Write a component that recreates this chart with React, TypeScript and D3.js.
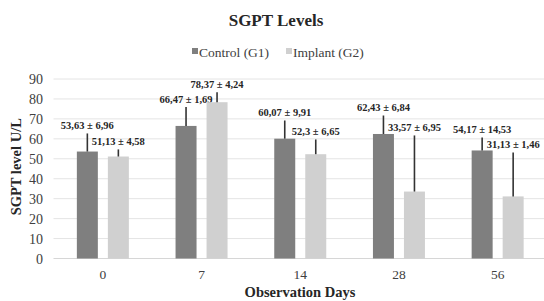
import React from "react";
import * as d3 from "d3";

const days = ["0", "7", "14", "28", "56"];
const groups = ["Control (G1)", "Implant (G2)"];
const controlMean = [53.63, 66.47, 60.07, 62.43, 54.17];
const implantMean = [51.13, 78.37, 52.3, 33.57, 31.13];
const controlSd = [6.96, 1.69, 9.91, 6.84, 14.53];
const implantSd = [4.58, 4.24, 6.65, 6.95, 1.46];
// upper end of the error whiskers as drawn in the figure
const controlErrTop = [62.7, 75.9, 69.2, 71.7, 60.7];
const implantErrTop = [54.7, 83.4, 59.7, 61.7, 53.2];
const yTicks = [0, 10, 20, 30, 40, 50, 60, 70, 80, 90];

const colors = ["#7f7f7f", "#d0d0d0"];
const serif = { fontFamily: '"Times New Roman", "Liberation Serif", serif' };

const W = 544;
const H = 301;
const left = 53.5;
const right = 547;
const top = 79;
const bottom = 258.5;

const fmt = (v: number) => String(v).replace(".", ",");

const App = () => {
  const x = d3.scaleBand<string>().domain(days).range([left, right]).padding(0);
  const inner = d3
    .scaleBand<string>()
    .domain(groups)
    .range([0, 52])
    .paddingInner(0.323)
    .paddingOuter(0);
  const y = d3.scaleLinear().domain([0, 90]).range([bottom, top]);

  const series = [
    { name: groups[0], mean: controlMean, sd: controlSd, err: controlErrTop, color: colors[0] },
    { name: groups[1], mean: implantMean, sd: implantSd, err: implantErrTop, color: colors[1] },
  ];

  const groupOffset = (x.bandwidth() - 52) / 2;

  return (
    <svg width={W} height={H} style={{ position: "absolute", left: 0, top: 0, background: "#fff" }}>
      <text x={276} y={26} textAnchor="middle" style={serif} fontWeight="bold" fontSize={17} fill="#262626">
        SGPT Levels
      </text>

      {/* legend */}
      {series.map((s, i) => {
        const lx = i === 0 ? 192 : 286;
        return (
          <g key={s.name}>
            <rect x={lx} y={48} width={6} height={6} fill={s.color} />
            <text x={lx + 7} y={57} style={serif} fontSize={13.5} fill="#404040">
              {s.name}
            </text>
          </g>
        );
      })}

      {/* grid */}
      {yTicks.map((t) => (
        <g key={t}>
          {t > 0 && <line x1={left} x2={W} y1={y(t)} y2={y(t)} stroke="#e4e4e4" strokeWidth={1} />}
          <text x={43} y={y(t) + 5} textAnchor="end" style={serif} fontSize={14} fill="#404040">
            {t}
          </text>
        </g>
      ))}
      <line x1={left} x2={W} y1={bottom} y2={bottom} stroke="#d6d6d6" strokeWidth={1.2} />

      {/* bars */}
      {series.map((s) =>
        days.map((d, i) => {
          const bx = (x(d) as number) + groupOffset + (inner(s.name) as number);
          const cx = bx + inner.bandwidth() / 2;
          return (
            <g key={s.name + d}>
              <rect x={bx} y={y(s.mean[i])} width={inner.bandwidth()} height={bottom - y(s.mean[i])} fill={s.color} />
              <line x1={cx} x2={cx} y1={y(s.mean[i])} y2={y(s.err[i])} stroke="#333" strokeWidth={1.6} />
              <text
                x={cx}
                y={y(s.err[i]) - 4.5}
                textAnchor="middle"
                style={serif}
                fontWeight="bold"
                fontSize={10.5}
                fill="#262626"
              >
                {fmt(s.mean[i])} ± {fmt(s.sd[i])}
              </text>
            </g>
          );
        })
      )}

      {/* x ticks */}
      {days.map((d) => (
        <text
          key={d}
          x={(x(d) as number) + x.bandwidth() / 2}
          y={279}
          textAnchor="middle"
          style={serif}
          fontSize={13.5}
          fill="#404040"
        >
          {d}
        </text>
      ))}

      <text x={300} y={297} textAnchor="middle" style={serif} fontWeight="bold" fontSize={14.5} fill="#262626">
        Observation Days
      </text>
      <text
        transform={`translate(21,${(top + bottom) / 2 - 2}) rotate(-90)`}
        textAnchor="middle"
        style={serif}
        fontWeight="bold"
        fontSize={14.5}
        fill="#262626"
      >
        SGPT level U/L
      </text>
    </svg>
  );
};

export default App;
